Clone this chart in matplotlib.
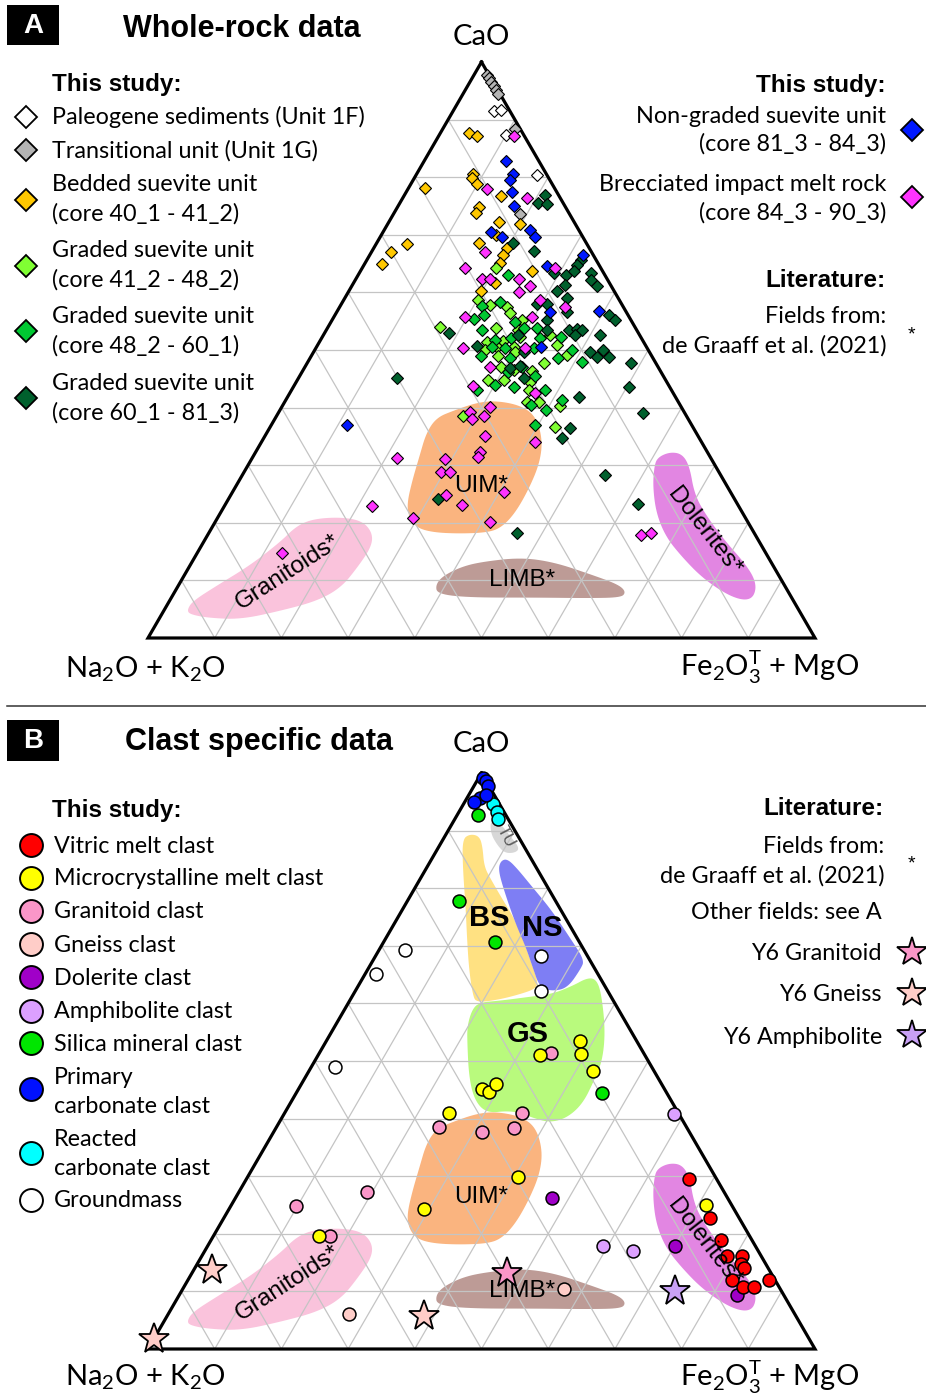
import numpy as np
import matplotlib
matplotlib.use('Agg')
import matplotlib.pyplot as plt
from matplotlib.patches import Polygon, Rectangle

plt.rcParams['font.family'] = ['Lato', 'DejaVu Sans']
plt.rcParams['mathtext.fontset'] = 'custom'
plt.rcParams['mathtext.rm'] = 'Lato'
plt.rcParams['mathtext.it'] = 'Lato:italic'
plt.rcParams['mathtext.bf'] = 'Lato:bold'

# ---------------- DATA (CaO, Fe2O3T+MgO in wt% of the ternary sum; Na2O+K2O is the remainder) -------------
# Panel A: whole-rock data
A_paleo_cao = [91.5, 91.7, 87.3, 80.4]
A_paleo_fm = [6.1, 7.0, 10.0, 18.1]
A_trans_cao = [97.7, 97.2, 96.5, 95.8, 95.1, 94.4, 88.4, 73.6]
A_trans_fm = [2.0, 2.5, 3.2, 3.9, 4.6, 5.3, 10.8, 18.9]
A_bedded_cao = [87.7, 87.2, 80.6, 79.9, 78.8, 78.2, 76.7, 74.9, 73.7, 72.3, 70.0, 71.9, 68.5, 67.7,
                66.5, 65.1, 68.4, 67.0, 64.9, 63.8, 61.6, 60.2]
A_bedded_fm = [4.3, 5.7, 8.4, 8.7, 9.9, 2.4, 14.5, 12.2, 12.4, 16.5, 17.2, 19.8, 15.4, 20.0,
               19.9, 20.2, 4.6, 2.9, 2.6, 25.6, 21.2, 19.8]
A_g1_cao = [64.2, 58.7, 57.8, 57.5, 56.4, 54.0, 53.8, 55.2, 53.5, 51.4, 51.6, 52.2, 52.6, 50.0, 50.6,
            50.6, 50.9, 49.1, 49.0, 49.7, 47.7, 47.1, 46.5, 46.4, 44.8, 44.8, 44.5, 43.1, 41.0, 40.9,
            40.2, 38.6, 36.6]
A_g1_fm = [20.1, 20.2, 22.4, 25.0, 26.1, 16.8, 25.3, 28.4, 28.7, 25.1, 27.4, 29.7, 34.0, 25.5, 27.0,
           29.5, 35.9, 38.3, 28.0, 30.2, 35.5, 29.3, 31.6, 34.3, 28.6, 30.9, 35.0, 35.5, 36.3, 38.1,
           41.7, 28.0, 42.7]
A_g2_cao = [63.0, 57.6, 58.4, 56.1, 55.3, 53.4, 54.9, 53.8, 53.8, 51.7, 52.0, 52.0, 52.3, 50.5, 50.3,
            50.3, 50.0, 49.0, 48.6, 48.6, 48.0, 46.1, 47.0, 45.5, 43.9, 43.6, 43.1, 43.1, 40.5, 41.4,
            39.6, 37.0]
A_g2_fm = [22.5, 21.2, 23.6, 22.3, 21.2, 23.3, 27.6, 29.4, 31.4, 26.2, 28.4, 32.8, 35.7, 26.3, 28.4,
           32.7, 38.5, 25.4, 30.0, 37.2, 41.0, 30.9, 32.5, 35.3, 30.1, 33.0, 27.8, 38.0, 37.1, 41.3,
           39.9, 39.5]
A_g3_cao = [76.9, 75.6, 75.3, 68.6, 67.2, 65.6, 64.8, 63.4, 63.0, 63.8, 63.4, 62.2, 61.1, 61.3, 60.3,
            59.0, 58.0, 58.0, 56.6, 56.1, 55.2, 55.2, 53.5, 53.5, 53.6, 53.5, 52.6, 52.6, 53.0, 50.7,
            52.6, 49.7, 49.7, 48.7, 50.0, 48.7, 47.7, 46.9, 47.2, 43.6, 41.9, 39.0, 36.4, 34.8, 45.1,
            28.3, 23.2, 18.3, 45.2, 24.1]
A_g3_fm = [21.0, 20.7, 22.1, 20.4, 24.2, 32.1, 31.9, 29.2, 31.2, 32.0, 34.7, 35.3, 36.8, 31.9, 31.1,
           33.3, 29.3, 30.8, 34.5, 41.1, 42.4, 32.2, 33.1, 36.3, 37.5, 38.3, 41.5, 37.7, 18.7, 24.0,
           29.2, 31.5, 41.4, 42.9, 43.2, 44.8, 48.6, 30.8, 32.2, 50.3, 43.6, 54.7, 45.0, 44.6, 33.8,
           54.4, 61.8, 46.1, 14.8, 31.5]
A_nongr_cao = [82.8, 80.6, 79.6, 77.5, 75.0, 70.5, 69.7, 70.8, 69.6, 66.5, 64.5, 56.6, 56.8, 50.5, 36.9]
A_nongr_fm = [12.3, 14.4, 14.4, 15.8, 17.4, 16.2, 18.2, 21.8, 23.2, 32.0, 27.5, 32.0, 39.2, 33.7, 11.4]
A_brec_cao = [87.2, 77.9, 76.4, 67.1, 64.2, 62.4, 62.4, 62.3, 61.1, 60.1, 64.2, 58.6, 57.5, 55.8, 55.8,
              50.4, 50.3, 47.0, 43.8, 42.5, 40.1, 39.3, 38.1, 38.5, 35.0, 34.1, 32.3, 25.4, 20.2, 17.9,
              18.3, 31.2, 23.0, 20.8, 14.7, 31.1, 28.8, 28.9, 24.9, 23.1, 31.5]
A_brec_fm = [11.3, 11.8, 18.6, 17.0, 15.4, 18.8, 20.1, 24.4, 26.7, 25.5, 28.9, 29.5, 33.8, 19.6, 29.6,
             22.1, 31.4, 27.8, 26.8, 36.8, 31.2, 28.6, 29.6, 31.1, 33.0, 40.9, 33.6, 40.6, 41.2, 65.0,
             66.3, 21.8, 22.1, 29.4, 12.7, 29.0, 29.6, 30.9, 32.3, 35.6, 33.8]

# Panel B: clast specific data
B_vitric_cao = [29.5, 22.7, 18.9, 16.2, 16.2, 14.7, 14.0, 12.0, 10.8, 10.8, 11.9]
B_vitric_fm = [66.4, 72.9, 76.4, 78.7, 80.9, 81.5, 82.3, 81.6, 83.8, 85.4, 87.2]
B_micro_cao = [51.0, 53.4, 51.3, 48.3, 45.1, 44.7, 46.0, 41.0, 29.9, 24.3, 19.6, 25.0]
B_micro_fm = [33.3, 38.0, 39.2, 42.6, 27.5, 28.7, 29.2, 24.7, 40.5, 29.2, 15.9, 71.1]
B_gran_cao = [51.4, 38.6, 37.7, 38.3, 41.0, 24.9, 27.2, 19.6]
B_gran_fm = [34.7, 24.4, 31.2, 35.7, 35.5, 9.8, 19.3, 17.5]
B_gneiss_cao = [6.0, 10.4]
B_gneiss_fm = [27.1, 57.1]
B_doler_cao = [26.3, 17.8, 9.4]
B_doler_fm = [47.4, 70.1, 83.6]
B_amph_cao = [40.8, 17.9, 17.1]
B_amph_fm = [58.5, 59.3, 64.1]
B_silica_cao = [92.7, 77.8, 70.7, 44.4]
B_silica_fm = [3.2, 7.8, 16.6, 45.8]
B_primcarb_cao = [99.2, 98.6, 97.7, 95.7, 95.0, 96.2]
B_primcarb_fm = [0.6, 1.3, 2.1, 2.0, 1.4, 2.6]
B_reacarb_cao = [94.6, 93.3, 92.0]
B_reacarb_fm = [4.4, 5.6, 6.4]
B_ground_cao = [68.2, 62.2, 69.2, 65.1, 49.0]
B_ground_fm = [24.8, 27.8, 3.9, 1.7, 3.5]
Y6_gran_cao = [13.2]
Y6_gran_fm = [47.2]
Y6_gneiss_cao = [13.7, 1.7, 5.7]
Y6_gneiss_fm = [2.7, 0.0, 38.5]
Y6_amph_cao = [10.0]
Y6_amph_fm = [74.0]

# Literature / reference fields (outline vertices, CaO, Fe2O3T+MgO)
F_uim_cao = [38.1, 39.3, 40.7, 41.0, 40.2, 38.4, 34.4, 30.3, 25.7, 21.7, 19.3, 18.5, 18.3, 18.5, 19.3,
             21.1, 23.4, 27.4, 31.5, 35.5]
F_uim_fm = [24.3, 26.2, 29.0, 31.8, 35.7, 38.8, 41.8, 43.4, 44.0, 44.0, 43.2, 41.6, 37.7, 33.6, 30.7,
            28.7, 27.3, 26.1, 25.1, 24.1]
F_gran_cao = [4.9, 6.3, 8.9, 12.4, 16.4, 19.3, 20.5, 20.8, 20.2, 18.2, 15.9, 12.4, 8.9, 6.6, 4.9, 3.4, 3.7, 4.3]
F_gran_fm = [3.6, 3.7, 5.9, 9.1, 11.6, 12.7, 14.6, 18.4, 21.9, 24.4, 25.4, 25.1, 24.4, 22.0, 17.4, 12.1, 7.0, 4.2]
F_limb_cao = [7.8, 9.2, 10.6, 12.1, 13.0, 13.8, 13.0, 10.9, 9.2, 8.0, 7.2, 7.1, 7.2, 7.2]
F_limb_fm = [39.6, 38.7, 39.0, 40.8, 43.3, 48.9, 54.3, 60.8, 65.7, 67.5, 67.2, 62.3, 54.7, 44.7]
F_dol_cao = [31.2, 32.1, 31.8, 29.7, 25.1, 21.7, 17.0, 12.4, 9.5, 7.2, 6.7, 7.8, 10.6, 14.1, 17.6, 21.7, 26.3, 29.7]
F_dol_fm = [60.9, 62.2, 64.1, 66.2, 69.2, 72.4, 77.7, 83.5, 86.3, 87.1, 85.9, 82.8, 77.9, 73.2, 69.0, 65.5, 62.7, 61.2]
F_bs_cao = [88.4, 89.2, 88.9, 87.2, 83.7, 81.4, 78.0, 74.5, 70.4, 66.4, 63.5, 62.6, 61.8, 60.9, 60.3,
            61.5, 65.8, 71.0, 76.2, 83.7]
F_bs_fm = [3.1, 3.7, 5.1, 6.4, 8.4, 10.6, 14.0, 17.6, 21.1, 24.3, 26.6, 26.5, 24.9, 22.4, 19.2,
           18.1, 15.4, 12.5, 9.7, 5.5]
F_ns_cao = [84.6, 84.9, 83.2, 80.3, 76.2, 71.0, 67.5, 66.1, 62.9, 62.3, 62.9, 66.4, 69.8, 74.5, 80.3, 83.2]
F_ns_fm = [10.7, 11.4, 13.7, 17.2, 22.2, 27.8, 31.5, 31.7, 31.4, 29.6, 27.4, 24.6, 21.9, 17.8, 13.2, 11.1]
F_gs_cao = [60.0, 60.3, 60.9, 61.5, 62.9, 64.2, 64.1, 61.8, 55.4, 50.2, 46.7, 42.7, 40.3, 39.5, 40.3,
            41.2, 41.5, 41.2, 42.1, 44.4, 47.9, 52.5, 56.0, 58.9]
F_gs_fm = [19.8, 22.7, 26.4, 30.0, 32.3, 33.7, 35.0, 36.9, 40.7, 42.9, 43.4, 43.7, 42.6, 40.5, 37.6,
           35.2, 33.0, 30.7, 28.8, 26.6, 24.3, 21.8, 20.0, 19.3]
F_tu_cao = [91.8, 91.0, 88.7, 86.9, 86.3, 86.3, 87.5, 89.5]
F_tu_fm = [5.6, 7.3, 10.0, 12.1, 11.7, 10.4, 8.8, 6.8]

GRID_LEVELS = [10, 20, 30, 40, 50, 60, 70, 80, 90]

# ---------------- FIGURE ----------------
W, H = 926, 1395
fig = plt.figure(figsize=(W / 100, H / 100), dpi=100)
ax = fig.add_axes([0, 0, 1, 1])
ax.set_xlim(0, W)
ax.set_ylim(H, 0)
ax.axis('off')

XL, XR, TRI_H = 148.0, 815.0, 576.0
BASE_A, BASE_B = 638.0, 1349.0


def tern(cao, femg, base):
    cao = np.asarray(cao, float)
    femg = np.asarray(femg, float)
    alk = 100.0 - cao - femg
    tot = cao + femg + alk
    c, f = cao / tot, femg / tot
    return XL + (XR - XL) * (f + c / 2.0), base - TRI_H * c


def chaikin(x, y, n=3):
    p = np.column_stack([x, y])
    for _ in range(n):
        nxt = np.roll(p, -1, axis=0)
        q = 0.75 * p + 0.25 * nxt
        r = 0.25 * p + 0.75 * nxt
        new = np.empty((2 * len(p), 2))
        new[0::2] = q
        new[1::2] = r
        p = new
    return p


def field(cao, fm, base, color):
    x, y = tern(cao, fm, base)
    p = chaikin(x, y)
    ax.add_patch(Polygon(p, closed=True, facecolor=color, edgecolor=color, lw=1.5,
                         joinstyle='round', zorder=1))


def grid(base):
    for k in GRID_LEVELS:
        x, y = tern([k, k], [0, 100 - k], base)
        ax.plot(x, y, color='#c4c4c4', lw=0.9, zorder=2)
        x, y = tern([0, 100 - k], [k, k], base)
        ax.plot(x, y, color='#c4c4c4', lw=0.9, zorder=2)
        x, y = tern([0, 100 - k], [100 - k, 0], base)
        ax.plot(x, y, color='#c4c4c4', lw=0.9, zorder=2)
    x, y = tern([100, 0, 0, 100], [0, 0, 100, 0], base)
    ax.plot(x, y, color='black', lw=2.3, solid_joinstyle='miter', zorder=3)


def pts(cao, fm, base, marker, ms, color, z, mew=0.8):
    x, y = tern(cao, fm, base)
    ax.plot(x, y, ls='none', marker=marker, ms=ms, mfc=color, mec='black', mew=mew, zorder=z)


LEG = 'Lato'
HEAD = 'Liberation Sans'
FS = 16.8
TFS = 22
HFS = 17.5
LFS = 17.5

C_UIM, C_GRAN, C_LIMB, C_DOL = '#fab47f', '#fac3dc', '#bd9b96', '#e286e2'
C_BS, C_NS, C_GS, C_TU = '#ffe182', '#7e7ef4', '#b9fa7d', '#d7d7d7'


def lit_fields(base):
    field(F_uim_cao, F_uim_fm, base, C_UIM)
    field(F_gran_cao, F_gran_fm, base, C_GRAN)
    field(F_limb_cao, F_limb_fm, base, C_LIMB)
    field(F_dol_cao, F_dol_fm, base, C_DOL)


def field_labels(base):
    off = base - BASE_A
    ax.text(481, 486 + off, 'UIM*', family=HEAD, fontsize=LFS, ha='center', va='center', zorder=6)
    ax.text(288, 572 + off, 'Granitoids*', family=HEAD, fontsize=LFS, ha='center', va='center',
            rotation=33, zorder=6)
    ax.text(522, 580 + off, 'LIMB*', family=HEAD, fontsize=LFS, ha='center', va='center', zorder=6)
    ax.text(704, 532 + off, 'Dolerites*', family=HEAD, fontsize=LFS, ha='center', va='center',
            rotation=-52, zorder=6)


# ================= PANEL A =================
lit_fields(BASE_A)
grid(BASE_A)
field_labels(BASE_A)
dz, DMS = 5, 6.4
pts(A_paleo_cao, A_paleo_fm, BASE_A, 'D', DMS, 'white', dz)
pts(A_trans_cao, A_trans_fm, BASE_A, 'D', DMS, '#b4b4b4', dz)
pts(A_bedded_cao, A_bedded_fm, BASE_A, 'D', DMS, '#ffc800', dz)
pts(A_g1_cao, A_g1_fm, BASE_A, 'D', DMS, '#80ff33', dz)
pts(A_g2_cao, A_g2_fm, BASE_A, 'D', DMS, '#00c832', dz)
pts(A_g3_cao, A_g3_fm, BASE_A, 'D', DMS, '#00602d', dz)
pts(A_nongr_cao, A_nongr_fm, BASE_A, 'D', DMS, '#0018ff', dz)
pts(A_brec_cao, A_brec_fm, BASE_A, 'D', DMS, '#ff33ff', dz)

ax.add_patch(Rectangle((7, 5), 52, 40, facecolor='black', edgecolor='none', zorder=7))
ax.text(33, 26, 'A', color='white', family=HEAD, fontweight='bold', fontsize=20, ha='center',
        va='center', zorder=8)
ax.text(242, 37, 'Whole-rock data', family=HEAD, fontweight='bold', fontsize=TFS, ha='center',
        va='baseline')
ax.text(481, 45, 'CaO', fontsize=21, ha='center', va='baseline')
ax.text(65, 677, r'Na$_2$O + K$_2$O', fontsize=21, ha='left', va='baseline')
ax.text(680, 677, r'Fe$_2$O$_3^{\mathrm{T}}$ + MgO', fontsize=21, ha='left', va='baseline')

ax.text(52, 91, 'This study:', family=HEAD, fontweight='bold', fontsize=HFS, va='baseline')
legA = [
    (['Paleogene sediments (Unit 1F)'], [124], 117, 'white'),
    (['Transitional unit (Unit 1G)'], [157.3], 150, '#b4b4b4'),
    (['Bedded suevite unit', '(core 40_1 - 41_2)'], [191, 220.5], 200, '#ffc800'),
    (['Graded suevite unit', '(core 41_2 - 48_2)'], [257.3, 286.7], 265.7, '#80ff33'),
    (['Graded suevite unit', '(core 48_2 - 60_1)'], [323.3, 352.7], 331, '#00c832'),
    (['Graded suevite unit', '(core 60_1 - 81_3)'], [390, 419.3], 398.3, '#00602d'),
]
for lines, ys, my, col in legA:
    for t, yb in zip(lines, ys):
        ax.text(52, yb, t, family=LEG, fontsize=FS, va='baseline')
    ax.plot([26], [my], marker='D', ms=11.5, mfc=col, mec='black', mew=1.3, ls='none')

ax.text(886, 91.7, 'This study:', family=HEAD, fontweight='bold', fontsize=HFS, ha='right', va='baseline')
ax.text(886, 123.3, 'Non-graded suevite unit', family=LEG, fontsize=FS, ha='right', va='baseline')
ax.text(886, 150.7, '(core 81_3 - 84_3)', family=LEG, fontsize=FS, ha='right', va='baseline')
ax.plot([911.7], [130], marker='D', ms=11.5, mfc='#0018ff', mec='black', mew=1.3, ls='none')
ax.text(886, 191, 'Brecciated impact melt rock', family=LEG, fontsize=FS, ha='right', va='baseline')
ax.text(886, 219.3, '(core 84_3 - 90_3)', family=LEG, fontsize=FS, ha='right', va='baseline')
ax.plot([911.7], [197.3], marker='D', ms=11.5, mfc='#ff33ff', mec='black', mew=1.3, ls='none')
ax.text(886, 286.7, 'Literature:', family=HEAD, fontweight='bold', fontsize=HFS, ha='right', va='baseline')
ax.text(886, 323.3, 'Fields from:', family=LEG, fontsize=FS, ha='right', va='baseline')
ax.text(886, 352.7, 'de Graaff et al. (2021)', family=LEG, fontsize=FS, ha='right', va='baseline')
ax.text(911.7, 339, '*', family=HEAD, fontsize=14, ha='center', va='baseline')

ax.plot([7, 926], [706, 706], color='#333333', lw=1.1)

# ================= PANEL B =================
field(F_tu_cao, F_tu_fm, BASE_B, C_TU)
field(F_bs_cao, F_bs_fm, BASE_B, C_BS)
field(F_ns_cao, F_ns_fm, BASE_B, C_NS)
field(F_gs_cao, F_gs_fm, BASE_B, C_GS)
lit_fields(BASE_B)
grid(BASE_B)
field_labels(BASE_B)
ax.text(489, 918, 'BS', family=HEAD, fontweight='bold', fontsize=21, ha='center', va='center', zorder=6)
ax.text(542, 928, 'NS', family=HEAD, fontweight='bold', fontsize=21, ha='center', va='center', zorder=6)
ax.text(528, 1034, 'GS', family=HEAD, fontweight='bold', fontsize=21, ha='center', va='center', zorder=6)
ax.text(506, 837, 'TU', family=HEAD, fontsize=12, color='#555555', ha='center', va='center',
        rotation=-62, zorder=6)

cz, CMS = 5, 9.3
pts(B_ground_cao, B_ground_fm, BASE_B, 'o', CMS, 'white', cz, 1.1)
pts(B_gran_cao, B_gran_fm, BASE_B, 'o', CMS, '#fa96c8', cz, 1.1)
pts(B_gneiss_cao, B_gneiss_fm, BASE_B, 'o', CMS, '#ffcdc8', cz, 1.1)
pts(B_micro_cao, B_micro_fm, BASE_B, 'o', CMS, '#ffff00', cz, 1.1)
pts(B_amph_cao, B_amph_fm, BASE_B, 'o', CMS, '#dca0ff', cz, 1.1)
pts(B_doler_cao, B_doler_fm, BASE_B, 'o', CMS, '#a000c8', cz, 1.1)
pts(B_silica_cao, B_silica_fm, BASE_B, 'o', CMS, '#00e600', cz, 1.1)
pts(B_reacarb_cao, B_reacarb_fm, BASE_B, 'o', CMS, '#00ffff', cz, 1.1)
pts(B_primcarb_cao, B_primcarb_fm, BASE_B, 'o', CMS, '#0010ff', cz, 1.1)
pts(B_vitric_cao, B_vitric_fm, BASE_B, 'o', CMS, '#ff0000', cz, 1.1)
SMS = 23
pts(Y6_gran_cao, Y6_gran_fm, BASE_B, '*', SMS, '#fa96c8', 6, 1.3)
pts(Y6_gneiss_cao, Y6_gneiss_fm, BASE_B, '*', SMS, '#ffcdc8', 6, 1.3)
pts(Y6_amph_cao, Y6_amph_fm, BASE_B, '*', SMS, '#c8a0f5', 6, 1.3)

ax.add_patch(Rectangle((7, 720), 52, 41, facecolor='black', edgecolor='none', zorder=7))
ax.text(33, 741, 'B', color='white', family=HEAD, fontweight='bold', fontsize=20, ha='center',
        va='center', zorder=8)
ax.text(259, 750, 'Clast specific data', family=HEAD, fontweight='bold', fontsize=TFS, ha='center',
        va='baseline')
ax.text(481, 752, 'CaO', fontsize=21, ha='center', va='baseline')
ax.text(65, 1386, r'Na$_2$O + K$_2$O', fontsize=21, ha='left', va='baseline')
ax.text(680, 1386, r'Fe$_2$O$_3^{\mathrm{T}}$ + MgO', fontsize=21, ha='left', va='baseline')

ax.text(52, 816.7, 'This study:', family=HEAD, fontweight='bold', fontsize=HFS, va='baseline')
legB = [
    (['Vitric melt clast'], [852.7], 845, '#ff0000'),
    (['Microcrystalline melt clast'], [885.3], 878.3, '#ffff00'),
    (['Granitoid clast'], [918.3], 911, '#fa96c8'),
    (['Gneiss clast'], [951.7], 944.3, '#ffcdc8'),
    (['Dolerite clast'], [985], 977.3, '#a000c8'),
    (['Amphibolite clast'], [1017.7], 1010.7, '#dca0ff'),
    (['Silica mineral clast'], [1050.7], 1043.3, '#00e600'),
    (['Primary', 'carbonate clast'], [1084, 1113.3], 1089.3, '#0010ff'),
    (['Reacted', 'carbonate clast'], [1145.7, 1175], 1152.7, '#00ffff'),
    (['Groundmass'], [1207.3], 1200, 'white'),
]
for lines, ys, my, col in legB:
    for t, yb in zip(lines, ys):
        ax.text(54, yb, t, family=LEG, fontsize=FS, va='baseline')
    ax.plot([31], [my], marker='o', ms=16.5, mfc=col, mec='black', mew=1.4, ls='none')

ax.text(884, 815, 'Literature:', family=HEAD, fontweight='bold', fontsize=HFS, ha='right', va='baseline')
ax.text(884, 853.3, 'Fields from:', family=LEG, fontsize=FS, ha='right', va='baseline')
ax.text(884, 882.7, 'de Graaff et al. (2021)', family=LEG, fontsize=FS, ha='right', va='baseline')
ax.text(911.7, 868, '*', family=HEAD, fontsize=14, ha='center', va='baseline')
ax.text(882, 919.3, 'Other fields: see A', family=LEG, fontsize=FS, ha='right', va='baseline')
ax.text(882, 960, 'Y6 Granitoid', family=LEG, fontsize=FS, ha='right', va='baseline')
ax.plot([911.7], [951.7], marker='*', ms=22, mfc='#fa96c8', mec='black', mew=1.3, ls='none')
ax.text(882, 1001, 'Y6 Gneiss', family=LEG, fontsize=FS, ha='right', va='baseline')
ax.plot([911.7], [992.7], marker='*', ms=22, mfc='#ffcdc8', mec='black', mew=1.3, ls='none')
ax.text(882, 1044, 'Y6 Amphibolite', family=LEG, fontsize=FS, ha='right', va='baseline')
ax.plot([911.7], [1035], marker='*', ms=22, mfc='#c8a0f5', mec='black', mew=1.3, ls='none')

fig.savefig('out.png', dpi=100, facecolor='white')
